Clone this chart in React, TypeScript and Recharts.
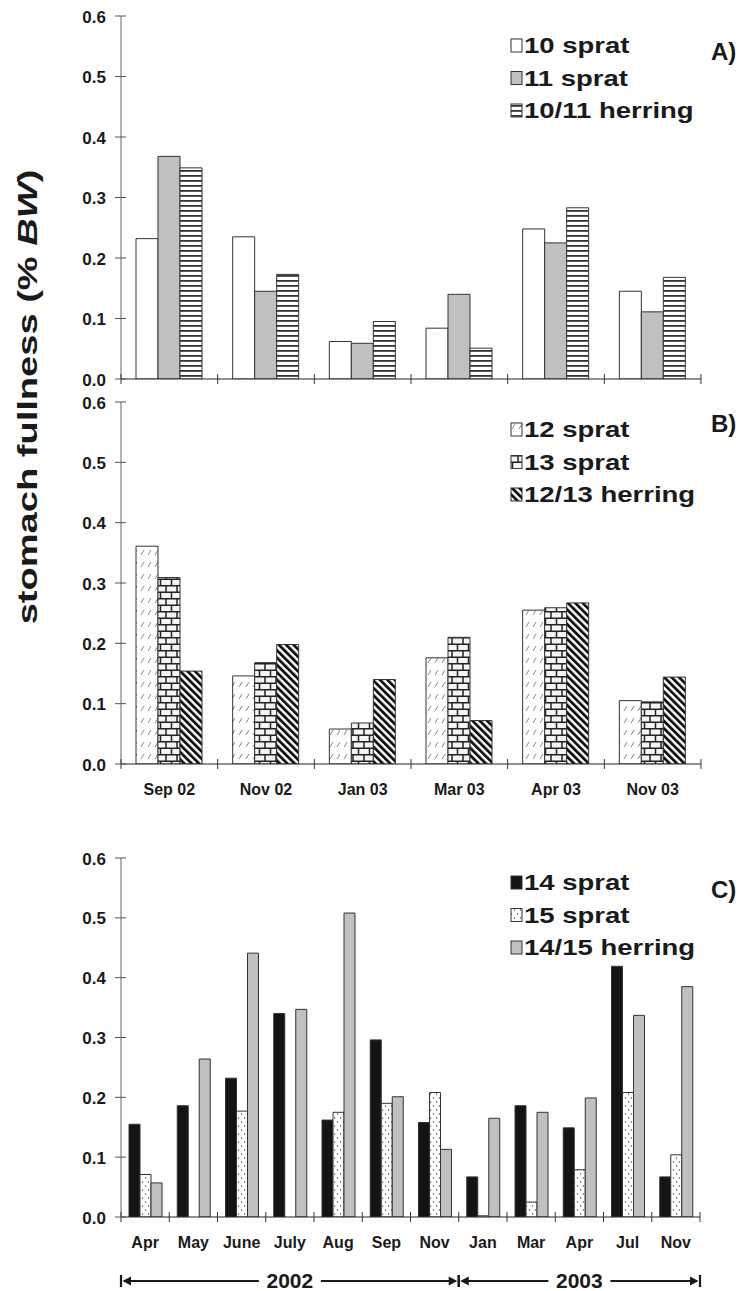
import React from "react";
import { BarChart, Bar, XAxis, YAxis } from "recharts";

// panels A and B share the sampling dates
const periodsAB = ["Sep 02", "Nov 02", "Jan 03", "Mar 03", "Apr 03", "Nov 03"];
const sprat10 = [0.232, 0.235, 0.062, 0.084, 0.248, 0.145];
const sprat11 = [0.368, 0.145, 0.059, 0.14, 0.225, 0.111];
const herring1011 = [0.349, 0.173, 0.095, 0.051, 0.283, 0.168];
const sprat12 = [0.361, 0.146, 0.058, 0.176, 0.255, 0.105];
const sprat13 = [0.309, 0.168, 0.068, 0.21, 0.259, 0.103];
const herring1213 = [0.154, 0.198, 0.14, 0.072, 0.267, 0.144];

// panel C, monthly
const monthsC = ["Apr", "May", "June", "July", "Aug", "Sep", "Nov", "Jan", "Mar", "Apr", "Jul", "Nov"];
const sprat14 = [0.155, 0.186, 0.232, 0.34, 0.162, 0.296, 0.158, 0.067, 0.186, 0.149, 0.419, 0.067];
const sprat15 = [0.071, null, 0.177, null, 0.175, 0.19, 0.208, 0.002, 0.025, 0.079, 0.208, 0.104];
const herring1415 = [0.057, 0.264, 0.441, 0.347, 0.508, 0.201, 0.113, 0.165, 0.175, 0.199, 0.337, 0.385];

const namesA = ["10 sprat", "11 sprat", "10/11 herring"];
const namesB = ["12 sprat", "13 sprat", "12/13 herring"];
const namesC = ["14 sprat", "15 sprat", "14/15 herring"];
const years = [
  { label: "2002", from: 0, to: 7 },
  { label: "2003", from: 7, to: 12 },
];
const yTicks = [0, 0.1, 0.2, 0.3, 0.4, 0.5, 0.6];

const FONT = '"Liberation Sans", Arial, Helvetica, sans-serif';
const INK = "#1a1a1a";
const LEFT = 121;

const dataA = periodsAB.map((p, i) => ({ period: p, a: sprat10[i], b: sprat11[i], c: herring1011[i] }));
const dataB = periodsAB.map((p, i) => ({ period: p, a: sprat12[i], b: sprat13[i], c: herring1213[i] }));
const dataC = monthsC.map((m, i) => ({ month: m, a: sprat14[i], b: sprat15[i], c: herring1415[i] }));

const fillsA = ["#ffffff", "#c0c0c2", "url(#hstripe)"];
const fillsB = ["url(#slashdash)", "url(#brick)", "url(#bdiag)"];
const fillsC = ["#141414", "url(#dots)", "#c0c0c2"];

function YTick(props: any) {
  const { x, y, payload } = props;
  return (
    <g>
      <line x1={x - 6} x2={x + 5} y1={y} y2={y} stroke="#555" />
      <text x={x - 15} y={y + 6.5} textAnchor="end" fontFamily={FONT} fontWeight="bold" fontSize={17} fill={INK}>
        {payload.value.toFixed(1)}
      </text>
    </g>
  );
}

function makeXTick(band: number, count: number, fontSize: number, showLabel: boolean) {
  return function XTick(props: any) {
    const { x, y, payload, index } = props;
    return (
      <g>
        <line x1={x - band / 2} x2={x - band / 2} y1={y - 5} y2={y + 5} stroke="#333" />
        {index === count - 1 && <line x1={x + band / 2} x2={x + band / 2} y1={y - 5} y2={y + 5} stroke="#333" />}
        {showLabel && (
          <text x={x} y={y + 31} textAnchor="middle" fontFamily={FONT} fontWeight="bold" fontSize={fontSize} fill={INK}>
            {payload.value}
          </text>
        )}
      </g>
    );
  };
}

function Panel({ data, xKey, fills, names, top, height, marginTop, right, barSize, tick, xHeight }: any) {
  return (
    <div style={{ position: "absolute", left: 0, top }}>
      <BarChart
        width={744}
        height={height}
        data={data}
        margin={{ top: marginTop, right, bottom: 0, left: 0 }}
        barGap={0}
        barSize={barSize}
      >
        <XAxis
          dataKey={xKey}
          height={xHeight}
          interval={0}
          tickSize={0}
          tickMargin={0}
          tickLine={false}
          axisLine={{ stroke: "#222", strokeWidth: 1.2 }}
          tick={tick}
        />
        <YAxis
          width={LEFT}
          type="number"
          domain={[0, 0.6]}
          ticks={yTicks}
          allowDataOverflow
          tickSize={0}
          tickMargin={0}
          tickLine={false}
          axisLine={{ stroke: "#666" }}
          tick={<YTick />}
        />
        {["a", "b", "c"].map((k, i) => (
          <Bar key={k} dataKey={k} name={names[i]} fill={fills[i]} stroke="#333" strokeWidth={1} isAnimationActive={false} />
        ))}
      </BarChart>
    </div>
  );
}

function LegendBlock({ names, fills, baseline, letter, letterY }: any) {
  return (
    <g>
      {names.map((n: string, i: number) => {
        const by = baseline + i * 32.5;
        return (
          <g key={n}>
            <rect x={511} y={by - 14} width={11} height={13} fill={fills[i]} stroke="#333" strokeWidth={1} />
            <g transform={`translate(524, ${by}) scale(1.25, 1)`}>
              <text x={0} y={0} fontFamily={FONT} fontWeight="bold" fontSize={22} fill={INK}>
                {n}
              </text>
            </g>
          </g>
        );
      })}
      <text x={711} y={letterY} fontFamily={FONT} fontWeight="bold" fontSize={24} fill={INK}>
        {letter}
      </text>
    </g>
  );
}

function YearArrows() {
  const band = (700 - LEFT) / monthsC.length;
  const y = 1281;
  return (
    <g>
      {years.map((yr) => {
        const x0 = LEFT + yr.from * band;
        const x1 = LEFT + yr.to * band;
        const cx = (x0 + x1) / 2;
        return (
          <g key={yr.label}>
            <line x1={x0 + 3} x2={cx - 31} y1={y} y2={y} stroke={INK} strokeWidth={2.2} />
            <line x1={cx + 31} x2={x1 - 3} y1={y} y2={y} stroke={INK} strokeWidth={2.2} />
            <polygon points={`${x0 + 1.5},${y} ${x0 + 10},${y - 4.5} ${x0 + 10},${y + 4.5}`} fill={INK} />
            <polygon points={`${x1 - 1.5},${y} ${x1 - 10},${y - 4.5} ${x1 - 10},${y + 4.5}`} fill={INK} />
            <line x1={x0} x2={x0} y1={y - 6} y2={y + 6} stroke={INK} strokeWidth={2.2} />
            <line x1={x1} x2={x1} y1={y - 6} y2={y + 6} stroke={INK} strokeWidth={2.2} />
            <text x={cx} y={y + 7} textAnchor="middle" fontFamily={FONT} fontWeight="bold" fontSize={21} fill={INK}>
              {yr.label}
            </text>
          </g>
        );
      })}
    </g>
  );
}

export default function App() {
  const bandAB = (701 - LEFT) / periodsAB.length;
  const bandC = (700 - LEFT) / monthsC.length;
  return (
    <div style={{ position: "absolute", left: 0, top: 0, width: 744, height: 1291, background: "#fff", overflow: "hidden" }}>
      <svg width={744} height={1291} style={{ position: "absolute", left: 0, top: 0 }}>
        <defs>
          <pattern id="hstripe" patternUnits="userSpaceOnUse" width={6} height={5}>
            <rect width={6} height={5} fill="#fff" />
            <rect y={0} width={6} height={1.8} fill="#333" />
          </pattern>
          <pattern id="slashdash" patternUnits="userSpaceOnUse" width={7} height={12}>
            <rect width={7} height={12} fill="#fff" />
            <line x1={1} y1={9} x2={4} y2={4} stroke="#888" strokeWidth={1} />
          </pattern>
          <pattern id="brick" patternUnits="userSpaceOnUse" width={11} height={13}>
            <rect width={11} height={13} fill="#f4f4f4" />
            <path d="M0 0.75H11M0 7.25H11M1 0.75V7.25M6.5 7.25V13" stroke="#222" strokeWidth={1.5} fill="none" />
          </pattern>
          <pattern id="bdiag" patternUnits="userSpaceOnUse" width={5.2} height={5.2} patternTransform="rotate(-45)">
            <rect width={5.2} height={5.2} fill="#fff" />
            <rect width={2.8} height={5.2} fill="#111" />
          </pattern>
          <pattern id="dots" patternUnits="userSpaceOnUse" width={6} height={8}>
            <rect width={6} height={8} fill="#fff" />
            <circle cx={1.5} cy={2} r={0.7} fill="#444" />
            <circle cx={4.5} cy={6} r={0.7} fill="#444" />
          </pattern>
        </defs>
        <g transform="translate(37, 397) rotate(-90) scale(1.36, 1)">
          <text x={0} y={0} textAnchor="middle" fontFamily={FONT} fontWeight="bold" fontSize={28} fill={INK}>
            stomach fullness (% <tspan fontStyle="italic">BW</tspan>)
          </text>
        </g>
        <LegendBlock names={namesA} fills={fillsA} baseline={53} letter="A)" letterY={60} />
        <LegendBlock names={namesB} fills={fillsB} baseline={437} letter="B)" letterY={432} />
        <LegendBlock names={namesC} fills={fillsC} baseline={890} letter="C)" letterY={898} />
        <YearArrows />
      </svg>
      <Panel data={dataA} xKey="period" fills={fillsA} names={namesA} top={0} height={400} marginTop={16} right={43}
        barSize={22} xHeight={21} tick={makeXTick(bandAB, periodsAB.length, 16, false)} />
      <Panel data={dataB} xKey="period" fills={fillsB} names={namesB} top={390} height={414} marginTop={12} right={43}
        barSize={22} xHeight={40} tick={makeXTick(bandAB, periodsAB.length, 16, true)} />
      <Panel data={dataC} xKey="month" fills={fillsC} names={namesC} top={840} height={417} marginTop={18} right={44}
        barSize={11} xHeight={40} tick={makeXTick(bandC, monthsC.length, 16, true)} />
    </div>
  );
}
